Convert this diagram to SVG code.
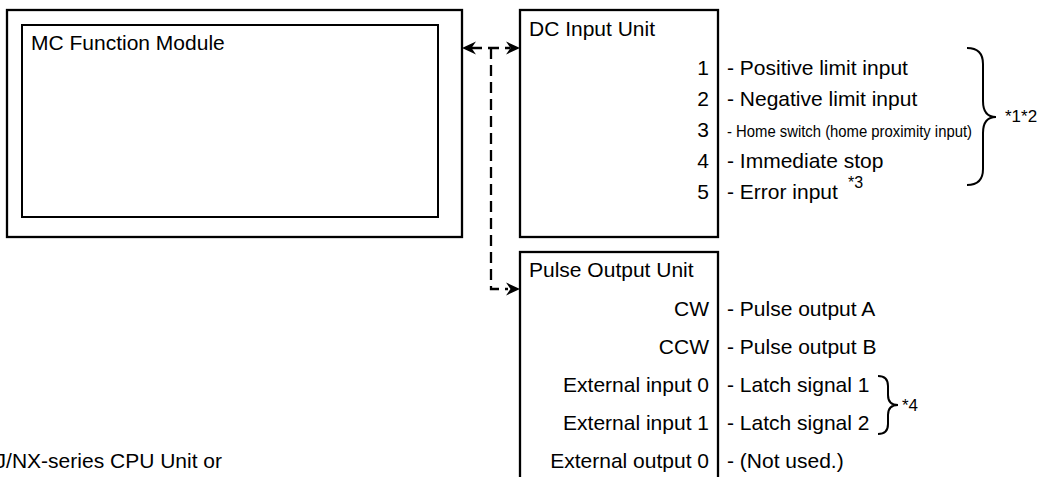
<svg xmlns="http://www.w3.org/2000/svg" xmlns:xlink="http://www.w3.org/1999/xlink" width="1045" height="477" viewBox="0 0 1045 477">
<style>
  .box{fill:#fff;stroke:#000;stroke-width:2.3}
  .inner{fill:none;stroke:#000;stroke-width:2}
  text{font-family:"Liberation Sans",Arial,Helvetica,sans-serif;fill:#000;font-size:21px}
  .r{text-anchor:end}
  .note{font-size:17px}
  .small{font-size:16px}
  .dash{fill:none;stroke:#000;stroke-width:2.3;stroke-dasharray:11 6}
  .brace{fill:none;stroke:#000;stroke-width:2}
</style>
<defs>
  <path id="ah" d="M0,0 L-14,-6.5 L-9.5,0 L-14,6.5 Z" fill="#000"/>
</defs>

<g id="mc-module">
  <rect class="box" x="7" y="10" width="455" height="227"/>
  <rect class="inner" x="22" y="25" width="416" height="192"/>
  <text x="31" y="50">MC Function Module</text>
</g>

<g id="dc-input-unit">
  <rect class="box" x="520" y="10" width="198" height="227"/>
  <text x="529" y="36">DC Input Unit</text>
  <text class="r" x="709" y="75">1</text>
  <text class="r" x="709" y="106">2</text>
  <text class="r" x="709" y="137">3</text>
  <text class="r" x="709" y="168">4</text>
  <text class="r" x="709" y="199">5</text>
  <text x="727" y="75">- Positive limit input</text>
  <text x="727" y="106">- Negative limit input</text>
  <text class="small" x="727" y="137" textLength="245" lengthAdjust="spacingAndGlyphs">- Home switch (home proximity input)</text>
  <text x="727" y="168">- Immediate stop</text>
  <text x="727" y="199">- Error input</text>
  <text class="small" x="848" y="188">*3</text>
  <path class="brace" d="M967,48 Q983,48 983,64 V101 Q983,117 996,117 Q983,117 983,133 V169 Q983,185 967,185"/>
  <text class="note" x="1005" y="122">*1*2</text>
</g>

<g id="pulse-output-unit">
  <rect class="box" x="520" y="252" width="198" height="240"/>
  <text x="529" y="277">Pulse Output Unit</text>
  <text class="r" x="709" y="316">CW</text>
  <text class="r" x="709" y="354">CCW</text>
  <text class="r" x="709" y="392">External input 0</text>
  <text class="r" x="709" y="430">External input 1</text>
  <text class="r" x="709" y="468">External output 0</text>
  <text x="727" y="316">- Pulse output A</text>
  <text x="727" y="354">- Pulse output B</text>
  <text x="727" y="392">- Latch signal 1</text>
  <text x="727" y="430">- Latch signal 2</text>
  <text x="727" y="468">- (Not used.)</text>
  <path class="brace" d="M878,376 Q888,376 888,386 V395 Q888,405 898,405 Q888,405 888,415 V424 Q888,434 878,434"/>
  <text class="note" x="902" y="411">*4</text>
</g>

<g id="cpu-caption">
  <text class="r" x="222" y="468">J/NX-series CPU Unit or</text>
</g>

<g id="connectors">
  <path class="dash" d="M471,48 H510"/>
  <path class="dash" d="M491,48 V289 H508"/>
  <use xlink:href="#ah" transform="translate(462,48) rotate(180)"/>
  <use xlink:href="#ah" transform="translate(520,48)"/>
  <use xlink:href="#ah" transform="translate(520,289)"/>
</g>
</svg>
